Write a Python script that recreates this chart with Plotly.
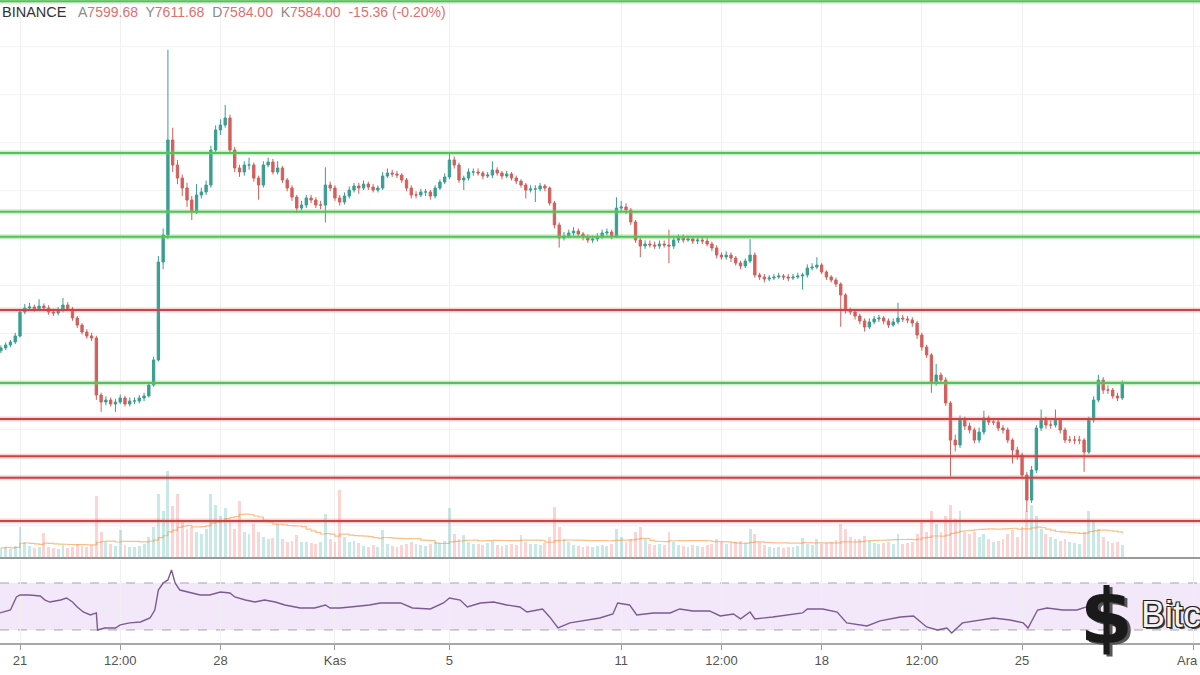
import pandas as pd
import plotly.graph_objects as go

# ---------------- data (BTC/USDT, 4h candles) ----------------
first_open = 7860
closes = [
    7883, 7908, 7933, 7983,                      # Oct 20
    8183, 8216, 8225, 8208, 8233, 8216,          # Oct 21
    8183, 8175, 8200, 8241, 8208, 8133,          # Oct 22
    8074, 8016, 7983, 7966, 7491, 7432,          # Oct 23
    7449, 7416, 7432, 7466, 7416, 7441,          # Oct 24
    7441, 7466, 7483, 7574, 7783, 8600,          # Oct 25
    8825, 9617, 9409, 9300, 9217, 9117,          # Oct 26
    9017, 9159, 9184, 9242, 9534, 9701,          # Oct 27
    9742, 9801, 9534, 9384, 9351, 9409,          # Oct 28
    9409, 9300, 9242, 9409, 9434, 9351,          # Oct 29
    9384, 9284, 9217, 9142, 9050, 9075,          # Oct 30
    9134, 9117, 9075, 9075, 9242, 9217,          # Oct 31
    9134, 9100, 9150, 9200, 9234, 9217,          # Nov 1
    9250, 9225, 9200, 9217, 9317, 9342,          # Nov 2
    9334, 9325, 9284, 9217, 9159, 9159,          # Nov 3
    9184, 9184, 9150, 9217, 9267, 9309,          # Nov 4
    9451, 9409, 9284, 9300, 9351, 9351,          # Nov 5
    9342, 9317, 9325, 9367, 9342, 9317,          # Nov 6
    9334, 9300, 9275, 9242, 9200, 9209,          # Nov 7
    9209, 9234, 9217, 9092, 8909, 8800,          # Nov 8
    8817, 8842, 8858, 8833, 8808, 8783,          # Nov 9
    8792, 8809, 8842, 8850, 8817, 9050,          # Nov 10
    9059, 9034, 8934, 8783, 8733, 8750,          # Nov 11
    8742, 8733, 8750, 8742, 8733, 8783,          # Nov 12
    8800, 8783, 8792, 8775, 8783, 8775,          # Nov 13
    8750, 8717, 8658, 8642, 8658, 8633,          # Nov 14
    8592, 8567, 8608, 8658, 8492, 8475,          # Nov 15
    8458, 8467, 8475, 8483, 8475, 8467,          # Nov 16
    8475, 8483, 8492, 8550, 8558, 8575,          # Nov 17
    8517, 8475, 8450, 8416, 8325, 8200,          # Nov 18
    8183, 8150, 8108, 8058, 8100, 8125,          # Nov 19
    8133, 8108, 8075, 8100, 8133, 8125,          # Nov 20
    8117, 8091, 7991, 7891, 7825, 7599,          # Nov 21
    7658, 7616, 7424, 7115, 7074, 7282,          # Nov 22
    7232, 7199, 7115, 7182, 7299, 7265,          # Nov 23
    7265, 7215, 7199, 7115, 7032, 6990,          # Nov 24
    6824, 6615, 6865, 7215, 7282, 7240,          # Nov 25
    7240, 7282, 7199, 7115, 7115, 7115,          # Nov 26
    7115, 7015, 7282, 7449, 7616, 7532,          # Nov 27
    7532, 7482, 7466, 7584,                      # Nov 28
]
highs = [
    7905, 7930, 7950, 8010,
    8200, 8250, 8260, 8245, 8290, 8255,
    8240, 8210, 8225, 8300, 8265, 8225,
    8150, 8090, 8040, 8010, 7985, 7510,
    7480, 7470, 7460, 7495, 7485, 7470,
    7470, 7490, 7510, 7600, 7810, 8650,
    8880, 10370, 9720, 9450, 9330, 9260,
    9150, 9250, 9220, 9280, 9570, 9740,
    9790, 9910, 9830, 9560, 9410, 9440,
    9470, 9430, 9320, 9440, 9470, 9460,
    9440, 9400, 9300, 9240, 9160, 9110,
    9160, 9160, 9140, 9110, 9390, 9270,
    9240, 9160, 9180, 9230, 9260, 9260,
    9280, 9270, 9250, 9240, 9350, 9380,
    9370, 9360, 9340, 9300, 9240, 9190,
    9210, 9210, 9200, 9240, 9290, 9340,
    9510, 9480, 9430, 9320, 9380, 9380,
    9380, 9360, 9350, 9440, 9390, 9360,
    9360, 9350, 9320, 9290, 9260, 9240,
    9240, 9260, 9250, 9230, 9110, 8930,
    8850, 8870, 8890, 8880, 8850, 8830,
    8820, 8840, 8870, 8880, 8870, 9140,
    9110, 9090, 9050, 8950, 8800, 8780,
    8780, 8770, 8780, 8780, 8870, 8810,
    8830, 8830, 8820, 8810, 8810, 8810,
    8800, 8770, 8740, 8680, 8690, 8680,
    8650, 8610, 8630, 8790, 8680, 8510,
    8500, 8490, 8500, 8510, 8500, 8500,
    8500, 8510, 8510, 8580, 8590, 8640,
    8590, 8530, 8490, 8470, 8430, 8340,
    8220, 8200, 8170, 8130, 8130, 8150,
    8160, 8150, 8130, 8130, 8260, 8160,
    8150, 8140, 8110, 8010, 7910, 7840,
    7750, 7680, 7640, 7440, 7160, 7320,
    7310, 7260, 7220, 7220, 7360, 7320,
    7300, 7290, 7240, 7220, 7130, 7060,
    7010, 6850, 6900, 7240, 7370, 7310,
    7280, 7370, 7300, 7220, 7150, 7150,
    7150, 7130, 7310, 7480, 7660, 7640,
    7570, 7550, 7510, 7612,
]
lows = [
    7840, 7865, 7890, 7915,
    7970, 8165, 8195, 8185, 8190, 8195,
    8160, 8150, 8155, 8180, 8190, 8110,
    8050, 7995, 7960, 7940, 7450, 7350,
    7405, 7395, 7350, 7415, 7395, 7395,
    7415, 7420, 7440, 7470, 7560, 7770,
    8540, 8790, 9350, 9250, 9150, 9060,
    8950, 9000, 9130, 9160, 9220, 9500,
    9660, 9720, 9500, 9350, 9310, 9320,
    9370, 9270, 9120, 9220, 9390, 9330,
    9330, 9260, 9190, 9110, 9010, 9030,
    9050, 9090, 9050, 9040, 8930, 9190,
    9110, 9070, 9080, 9130, 9180, 9170,
    9200, 9200, 9180, 9180, 9200, 9300,
    9310, 9300, 9260, 9190, 9130, 9130,
    9140, 9150, 9120, 9130, 9200, 9250,
    9290, 9380, 9260, 9200, 9280, 9320,
    9320, 9290, 9300, 9300, 9320, 9290,
    9300, 9280, 9250, 9220, 9130, 9180,
    9100, 9190, 9190, 9070, 8880, 8720,
    8780, 8800, 8820, 8810, 8780, 8760,
    8760, 8770, 8790, 8820, 8790, 8800,
    9020, 9000, 8910, 8760, 8640, 8710,
    8720, 8710, 8710, 8720, 8590, 8710,
    8760, 8760, 8770, 8750, 8750, 8750,
    8730, 8690, 8630, 8620, 8620, 8600,
    8570, 8540, 8550, 8590, 8470, 8450,
    8430, 8440, 8450, 8460, 8450, 8440,
    8450, 8460, 8370, 8470, 8530, 8540,
    8500, 8450, 8430, 8390, 8060, 8170,
    8160, 8120, 8080, 8020, 8040, 8080,
    8100, 8080, 8050, 8060, 8080, 8100,
    8090, 8060, 7960, 7860, 7800, 7510,
    7570, 7590, 7400, 6810, 7020, 7050,
    7200, 7170, 7090, 7090, 7160, 7240,
    7240, 7190, 7170, 7090, 6920, 6950,
    6790, 6515, 6590, 6840, 7190, 7210,
    7210, 7220, 7170, 7090, 7090, 7080,
    7080, 6850, 7000, 7260, 7430, 7500,
    7500, 7460, 7440, 7450,
]
volumes = [  # thousand BTC per 4h
    1.8, 2.0, 1.6, 2.2,
    6.0, 3.0, 2.2, 1.8, 2.0, 4.8,
    2.0, 1.8, 1.6, 2.4, 1.8, 2.0,
    2.5, 2.2, 2.0, 2.4, 12.0, 5.0,
    3.0, 2.5, 2.2, 5.4, 2.4, 2.0,
    2.0, 2.2, 2.6, 4.0, 6.0, 12.5,
    9.0, 17.0, 10.0, 12.5, 7.0, 5.5,
    6.0, 5.0, 4.5, 5.5, 12.5, 10.2,
    8.0, 9.7, 7.0, 5.5, 11.0, 5.0,
    4.5, 6.6, 5.0, 4.0, 3.5, 3.8,
    6.6, 3.5, 3.0, 3.2, 4.3, 3.0,
    3.0, 2.8, 2.6, 3.0, 8.4, 3.5,
    3.0, 13.3, 4.0, 3.0, 3.2, 2.8,
    2.2, 2.0, 2.4, 2.0, 5.4, 2.6,
    2.2, 2.0, 2.4, 2.6, 3.0, 2.6,
    2.4, 2.2, 2.6, 3.0, 2.8, 3.2,
    9.7, 4.5, 3.6, 4.3, 3.0, 2.6,
    2.6, 2.4, 2.8, 3.2, 2.4, 2.2,
    2.4, 2.6, 2.4, 4.3, 3.0, 2.6,
    2.6, 2.4, 2.8, 4.0, 9.9, 6.0,
    3.5, 3.0, 2.4, 2.2, 2.0, 2.2,
    2.0, 2.2, 2.4, 2.2, 2.6, 5.5,
    4.0, 3.0, 3.5, 5.0, 6.0, 3.5,
    2.6, 2.4, 2.6, 2.4, 5.0, 3.0,
    2.4, 2.2, 2.0, 2.4, 2.2, 2.0,
    2.4, 2.6, 3.5, 3.0, 2.6, 2.8,
    3.0, 3.2, 2.8, 5.5, 4.5, 3.0,
    2.4, 2.0, 1.8, 2.0, 1.8, 2.0,
    2.0, 2.2, 3.8, 2.6, 2.4, 3.5,
    2.6, 2.8, 3.0, 3.4, 6.5, 5.5,
    4.0, 3.5, 3.6, 4.2, 3.2, 2.8,
    2.6, 2.8, 3.0, 2.6, 4.5, 2.6,
    2.8, 3.0, 4.5, 7.2, 5.0, 9.0,
    6.5, 5.0, 8.0, 10.2, 7.5, 9.0,
    5.0, 4.5, 5.0, 4.0, 4.5, 3.5,
    3.0, 3.2, 3.5, 4.5, 5.4, 4.0,
    6.0, 9.0, 10.2, 8.0, 5.5, 4.5,
    4.0, 3.5, 3.2, 3.6, 3.0, 2.8,
    2.6, 5.0, 9.0, 7.0, 5.5, 4.0,
    3.2, 2.8, 3.0, 2.4,
]
# RSI readings: hours after 21 Oct 00:00 and value
rsi_hours = [
    -17, -8, -3, 0, 8, 17, 21, 25, 34, 39,
    44, 48, 53, 59, 64, 65, 71, 80, 84, 92,
    101, 109, 113, 116, 120, 124, 127, 130, 134, 143,
    151, 159, 168, 176, 180, 189, 197, 205, 214, 222,
    235, 247, 256, 260, 268, 277, 285, 293, 302, 319,
    329, 344, 355, 360, 369, 375, 386, 397, 408, 419,
    425, 438, 444, 451, 461, 475, 486, 497, 501, 511,
    517, 531, 545, 553, 564, 578, 587, 598, 604, 612,
    616, 631, 637, 656, 660, 673, 685, 693, 710, 721,
    738, 749, 760, 769, 777, 781, 790, 805, 816, 830,
    841, 845, 853, 861, 874, 886, 894, 905, 914, 928,
]
rsi_values = [
    44.5, 47.0, 58.1, 59.8, 59.8, 58.9, 55.5, 53.8, 55.5, 57.2,
    53.8, 49.6, 45.3, 42.8, 44.5, 30.0, 31.7, 31.7, 34.3, 36.0,
    36.8, 40.2, 47.0, 64.0, 70.0, 72.6, 81.1, 70.0, 64.0, 61.5,
    59.8, 59.8, 62.3, 61.5, 58.1, 55.5, 53.8, 55.5, 53.8, 51.3,
    48.7, 48.7, 51.3, 48.7, 48.7, 49.6, 50.4, 51.3, 53.0, 53.0,
    48.7, 47.9, 53.0, 57.2, 55.5, 49.6, 53.0, 53.8, 51.3, 49.6,
    45.3, 47.9, 41.1, 31.7, 36.0, 38.5, 40.2, 43.6, 53.0, 51.3,
    42.8, 44.5, 44.5, 47.9, 46.2, 46.2, 41.9, 43.6, 39.4, 45.3,
    39.4, 41.1, 41.9, 44.5, 47.9, 47.9, 45.3, 36.0, 33.4, 37.7,
    41.1, 41.9, 32.6, 30.0, 31.7, 27.4, 36.0, 38.5, 40.2, 38.5,
    36.0, 31.7, 47.0, 48.7, 47.0, 47.0, 49.6, 55.5, 57.2, 55.5,
]
green_levels = [10775, 9510, 9020, 8810, 7590]
red_levels = [8200, 7290, 6980, 6800, 6440]
rsi_bands = [30, 70]
tick_dates = ["2019-10-21", "2019-10-24 12:00", "2019-10-28", "2019-11-01",
              "2019-11-05", "2019-11-11", "2019-11-14 12:00", "2019-11-18",
              "2019-11-21 12:00", "2019-11-25", "2019-12-01"]
tick_labels = ["21", "12:00", "28", "Kas", "5", "11", "12:00", "18", "12:00", "25", "Ara"]
header_items = [("A", "7599.68"), ("Y", "7611.68"), ("D", "7584.00"), ("K", "7584.00")]
header_change = "-15.36 (-0.20%)"

# ---------------- build ----------------
n = len(closes)
times = pd.date_range("2019-10-20 08:00", periods=n, freq="4h")
opens = [first_open] + closes[:-1]
UP, DOWN = "#3a9e92", "#d35f5b"
vol_colors = ["rgba(38,166,154,0.25)" if c >= o else "rgba(239,83,80,0.25)"
              for o, c in zip(opens, closes)]
vol_ma = pd.Series(volumes).rolling(20, min_periods=1).mean()
rsi_times = pd.Timestamp("2019-10-21") + pd.to_timedelta(rsi_hours, unit="h")

fig = go.Figure()
fig.add_trace(go.Bar(x=times, y=volumes[:n], marker=dict(color=vol_colors, line=dict(width=0)),
                     width=4 * 3600 * 1000 * 0.6, xaxis="x", yaxis="y2", hoverinfo="skip"))
fig.add_trace(go.Scatter(x=times, y=vol_ma, mode="lines", xaxis="x", yaxis="y2",
                         line=dict(color="rgba(245,150,60,0.6)", width=1.2, shape="hv"),
                         hoverinfo="skip"))
fig.add_trace(go.Candlestick(x=times, open=opens, high=highs[:n], low=lows[:n], close=closes,
                             xaxis="x", yaxis="y", whiskerwidth=0,
                             increasing=dict(line=dict(color=UP, width=1), fillcolor=UP),
                             decreasing=dict(line=dict(color=DOWN, width=1), fillcolor=DOWN)))
fig.add_trace(go.Scatter(x=rsi_times, y=rsi_values, mode="lines", xaxis="x", yaxis="y3",
                         line=dict(color="#7d5a92", width=1.4), hoverinfo="skip"))

shapes = []
for lv in green_levels:
    shapes.append(dict(type="line", xref="paper", x0=0, x1=1, yref="y", y0=lv, y1=lv,
                       line=dict(color="rgba(110,210,110,0.35)", width=5), layer="above"))
    shapes.append(dict(type="line", xref="paper", x0=0, x1=1, yref="y", y0=lv, y1=lv,
                       line=dict(color="#58c058", width=2), layer="above"))
for lv in red_levels:
    shapes.append(dict(type="line", xref="paper", x0=0, x1=1, yref="y", y0=lv, y1=lv,
                       line=dict(color="rgba(230,110,110,0.3)", width=5), layer="above"))
    shapes.append(dict(type="line", xref="paper", x0=0, x1=1, yref="y", y0=lv, y1=lv,
                       line=dict(color="#c94444", width=2), layer="above"))
# RSI band
shapes.append(dict(type="rect", xref="paper", x0=0, x1=1, yref="y3", y0=rsi_bands[0], y1=rsi_bands[1],
                   fillcolor="rgba(190,140,225,0.2)", line=dict(width=0), layer="between"))
for b in rsi_bands:
    shapes.append(dict(type="line", xref="paper", x0=0, x1=1, yref="y3", y0=b, y1=b,
                       line=dict(color="#a9a3ad", width=1, dash="dash"), layer="between"))
# pane separator
shapes.append(dict(type="line", xref="paper", x0=0, x1=1, yref="paper", y0=0.1322, y1=0.1322,
                   line=dict(color="#9a9a9a", width=2), layer="above"))

header = "  ".join(
    f"<span style='color:#8a8a8a'>{k}</span><span style='color:#e07070'>{v}</span>"
    for k, v in header_items) + f"  <span style='color:#e07070'>{header_change}</span>"

TICK_FONT = dict(family="Liberation Sans Narrow, Arial Narrow, Liberation Sans", size=13, color="#555")
axis_labels = list(tick_labels[:-1]) + [""]   # last label placed inside the canvas below

annotations = [
    dict(xref="paper", yref="paper", x=0.0, y=0.9813, xanchor="left", yanchor="middle",
         text="BINANCE", showarrow=False, font=dict(family="Liberation Sans, Arial", size=14.5, color="#333")),
    dict(xref="paper", yref="paper", x=76 / 1200, y=0.9813, xanchor="left", yanchor="middle",
         text=header, showarrow=False, font=dict(family="Liberation Sans, Arial", size=14, color="#e07070")),
    dict(xref="paper", yref="paper", x=1.0, y=-17 / 643, xanchor="right", yanchor="middle",
         text=tick_labels[-1], showarrow=False, font=TICK_FONT),
    dict(xref="paper", yref="paper", x=1106 / 1200, y=(643 - 616) / 643, xanchor="center", yanchor="middle",
         text="<b>$</b>", showarrow=False,
         font=dict(family="DejaVu Sans", size=76, color="#1a1a1a",
                   shadow="3px 2px 0 #555")),
    dict(xref="paper", yref="paper", x=1139 / 1200, y=(643 - 614) / 643, xanchor="left", yanchor="middle",
         text="Bitc", showarrow=False,
         font=dict(family="Liberation Sans Narrow, Liberation Sans", size=36, color="#f2f2f2",
                   shadow="-1px -1px 0 #222, 1px -1px 0 #222, -1px 1px 0 #222, 1px 1px 0 #222, 2px 2px 0 #444")),
]

fig.update_layout(
    width=1200, height=675, margin=dict(l=0, r=0, t=0, b=32, autoexpand=False),
    paper_bgcolor="white", plot_bgcolor="white", showlegend=False,
    shapes=shapes, annotations=annotations, bargap=0,
    xaxis=dict(domain=[0, 1], anchor="y3", type="date", automargin=False,
               range=["2019-10-20 07:14", "2019-12-01 05:10"],
               tickvals=tick_dates, ticktext=axis_labels, tickangle=0,
               ticklabeloverflow="allow",
               ticks="outside", ticklen=5, tickcolor="#999",
               showline=True, linecolor="#a8a8a8", linewidth=1.5,
               showgrid=True, gridcolor="#f0f0f0", zeroline=False,
               tickfont=TICK_FONT,
               rangeslider=dict(visible=False)),
    yaxis=dict(domain=[0.13375, 1], range=[6140, 10785], showticklabels=False, automargin=False,
               showgrid=True, gridcolor="#f3f3f3", tick0=0, dtick=400, zeroline=False, fixedrange=True),
    yaxis2=dict(overlaying="y", range=[0, 110], visible=False, showgrid=False, automargin=False),
    yaxis3=dict(domain=[0, 0.12908], range=[18.9, 89.6], showticklabels=False, automargin=False,
                showgrid=False, zeroline=False),
)

fig.write_html("out.html", config={"displayModeBar": False},
               post_script="document.body.style.margin='0';document.body.style.padding='0';"
                           "document.body.style.overflow='hidden';")
